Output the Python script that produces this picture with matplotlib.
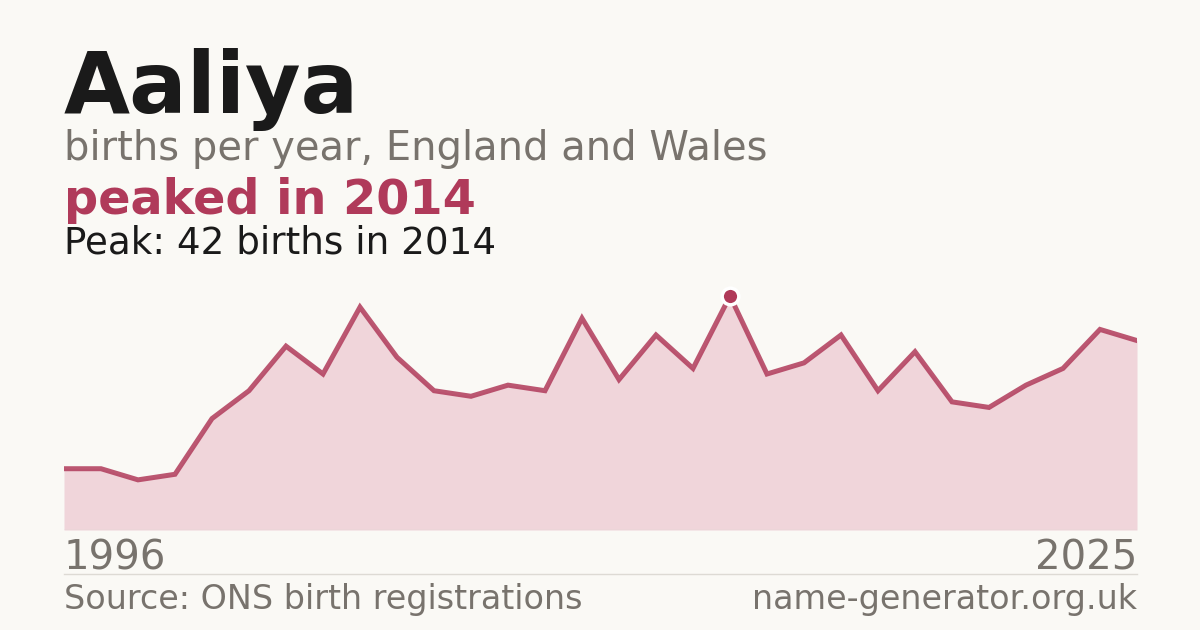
import matplotlib
matplotlib.use("Agg")
import matplotlib.pyplot as plt

NAME = "Aaliya"
SUBTITLE = "births per year, England and Wales"
HEADLINE = "peaked in 2014"
PEAK_NOTE = "Peak: 42 births in 2014"
SOURCE = "Source: ONS birth registrations"
SITE = "name-generator.org.uk"

years = list(range(1996, 2026))
births = [11, 11, 9, 10, 20, 25, 33, 28, 40, 31,
          25, 24, 26, 25, 38, 27, 35, 29, 42, 28,
          30, 35, 25, 32, 23, 22, 26, 29, 36, 34]

BG = "#faf9f5"
INK = "#1a1a1a"
GREY = "#78736d"
ACCENT = "#b03a5a"
FILL = "#f0d5da"

W, H = 1200, 630


def fx(px):
    return px / W


def fy(py):
    return 1 - py / H


fig = plt.figure(figsize=(12, 6.3), dpi=100, facecolor=BG)

# chart area: x 64..1137 px, baseline at y=530, peak lands at y=296
ax_top = 280
ax = fig.add_axes([fx(64), fy(530), fx(1137 - 64), (530 - ax_top) / H])
ax.set_facecolor(BG)
peak = max(births)
peak_year = years[births.index(peak)]
ax.set_xlim(years[0], years[-1])
ax.set_ylim(0, peak * (530 - ax_top) / (530 - 296))
ax.fill_between(years, births, 0, color=FILL, lw=0)
ax.plot(years, births, color=ACCENT, lw=3.6, alpha=0.85, solid_joinstyle="miter")
ax.plot([peak_year], [peak], "o", ms=12, color=ACCENT, mec="white", mew=2.5, clip_on=False, zorder=5)
ax.axhline(0, color="#dddad4", lw=1)
ax.axis("off")

fig.text(fx(64), fy(113), NAME, fontsize=61.5, fontweight="bold", color=INK, va="baseline")
fig.text(fx(64), fy(160), SUBTITLE, fontsize=28.8, color=GREY, va="baseline")
fig.text(fx(64), fy(214), HEADLINE, fontsize=34.4, fontweight="bold", color=ACCENT, va="baseline")
fig.text(fx(64), fy(253), PEAK_NOTE, fontsize=26.8, color=INK, va="baseline")

fig.text(fx(64), fy(570), str(years[0]), fontsize=28.9, color=GREY, va="baseline")
fig.text(fx(1137), fy(570), str(years[-1]), fontsize=28.9, color=GREY, va="baseline", ha="right")
fig.add_artist(plt.Line2D([fx(64), fx(1137)], [fy(574), fy(574)], color="#dddad4", lw=1))
fig.text(fx(64), fy(609), SOURCE, fontsize=24, color=GREY, va="baseline")
fig.text(fx(1137), fy(609), SITE, fontsize=24, color=GREY, va="baseline", ha="right")

fig.savefig("out.png", dpi=100, facecolor=BG)
